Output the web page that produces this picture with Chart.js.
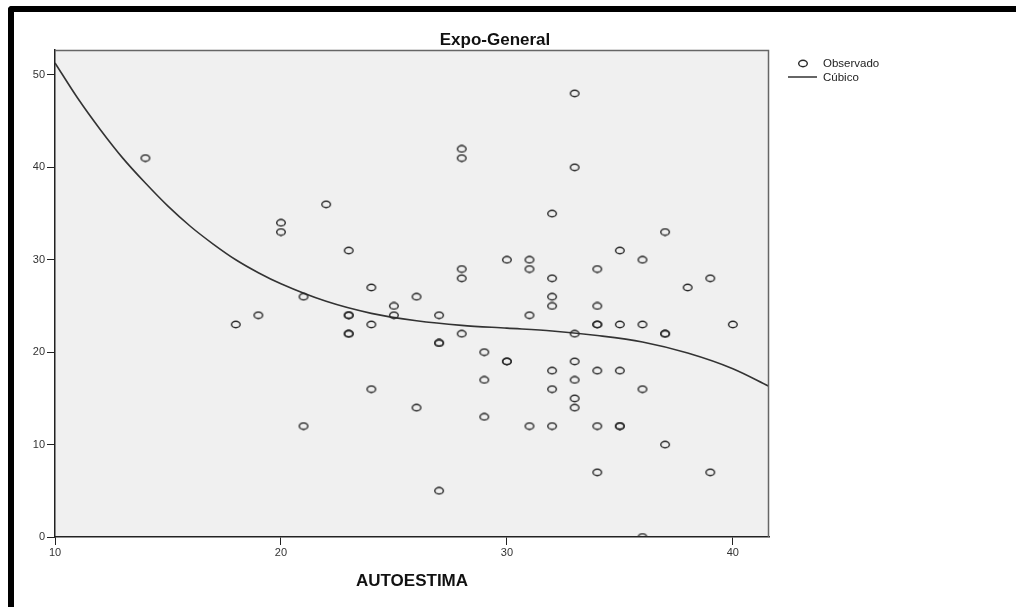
<!DOCTYPE html>
<html>
<head>
<meta charset="utf-8">
<script src="https://cdn.jsdelivr.net/npm/chart.js@4"></script>
<style>
  html, body { margin: 0; padding: 0; background: #fff; }
  #wrap { position: relative; width: 1016px; height: 607px; overflow: hidden; }
  #frame {
    position: absolute; left: 8px; top: 6px; width: 1100px; height: 700px;
    border-left: 6px solid #000; border-top: 6px solid #000;
    border-top-left-radius: 4px;
  }
  #chart { position: absolute; left: 0; top: 0; }
</style>
</head>
<body>
<div id="wrap">
  <div id="frame"></div>
  <canvas id="chart" width="1016" height="607"></canvas>
</div>
<script>
// observed values (AUTOESTIMA, Expo-General)
const obsX = [14, 18, 19, 20, 20, 21, 21, 22, 23, 23, 23, 23, 23, 24, 24, 24, 25, 25, 26, 26,
  27, 27, 27, 27, 28, 28, 28, 28, 28, 29, 29, 29, 30, 30, 30, 31, 31, 31, 31,
  32, 32, 32, 32, 32, 32, 32, 33, 33, 33, 33, 33, 33, 33,
  34, 34, 34, 34, 34, 34, 34, 35, 35, 35, 35, 35, 36, 36, 36, 36,
  37, 37, 37, 37, 38, 39, 39, 40];
const obsY = [41, 23, 24, 34, 33, 26, 12, 36, 31, 24, 24, 22, 22, 27, 23, 16, 25, 24, 26, 14,
  24, 21, 21, 5, 42, 41, 29, 28, 22, 20, 17, 13, 30, 19, 19, 30, 29, 24, 12,
  35, 28, 26, 25, 18, 16, 12, 48, 40, 22, 19, 17, 15, 14,
  29, 25, 23, 23, 18, 12, 7, 31, 23, 18, 12, 12, 30, 23, 16, 0,
  33, 22, 22, 10, 27, 28, 7, 23];

// cubic fit line
const fitX = [10, 11, 12, 13, 14, 15, 16, 17, 18, 19, 20, 22, 24, 26, 28, 30, 32, 34, 36, 38, 40, 41.6];
const fitY = [51.3, 47.5, 44.1, 41.0, 38.3, 35.8, 33.6, 31.7, 30.0, 28.6, 27.4, 25.5, 24.2, 23.4, 22.9, 22.6, 22.3, 21.8, 21.1, 19.9, 18.2, 16.3];

const xTicks = [10, 20, 30, 40];
const yTicks = [0, 10, 20, 30, 40, 50];

const FONT = '"Liberation Sans", Arial, sans-serif';

// hollow ellipse marker like the SPSS one
function ring() {
  const c = document.createElement('canvas');
  c.width = 12; c.height = 9;
  const g = c.getContext('2d');
  g.strokeStyle = '#2a2a2a';
  g.lineWidth = 1.4;
  g.beginPath();
  g.ellipse(6, 4.5, 4.3, 3.2, 0, 0, Math.PI * 2);
  g.stroke();
  return c;
}
const marker = ring();

const decor = {
  id: 'decor',
  beforeDraw(chart) {
    const { ctx, chartArea: a } = chart;
    ctx.save();
    ctx.fillStyle = '#f0f0f0';
    ctx.fillRect(a.left, a.top, a.width, a.height);
    ctx.restore();
  },
  afterDatasetsDraw(chart) {
    const { ctx, chartArea: a } = chart;
    ctx.save();
    ctx.strokeStyle = '#666';
    ctx.lineWidth = 1.5;
    ctx.beginPath();
    ctx.moveTo(a.left, a.top + 0.5);
    ctx.lineTo(a.right - 0.5, a.top + 0.5);
    ctx.lineTo(a.right - 0.5, a.bottom);
    ctx.stroke();
    ctx.restore();
  },
  afterDraw(chart) {
    const { ctx } = chart;
    ctx.save();
    ctx.fillStyle = '#111';
    ctx.textBaseline = 'middle';
    ctx.textAlign = 'center';
    ctx.font = 'bold 17px ' + FONT;
    ctx.fillText('Expo-General', 495, 40);
    ctx.fillText('AUTOESTIMA', 412, 581);

    // legend
    ctx.textAlign = 'left';
    ctx.font = '11.5px ' + FONT;
    ctx.fillStyle = '#222';
    ctx.drawImage(marker, 797, 59);
    ctx.fillText('Observado', 823, 64);
    ctx.strokeStyle = '#333';
    ctx.lineWidth = 1.5;
    ctx.beginPath();
    ctx.moveTo(788, 77);
    ctx.lineTo(817, 77);
    ctx.stroke();
    ctx.fillText('Cúbico', 823, 78);
    ctx.restore();
  }
};

new Chart(document.getElementById('chart'), {
  type: 'scatter',
  data: {
    datasets: [
      {
        label: 'Observado',
        data: obsX.map((x, i) => ({ x: x, y: obsY[i] })),
        pointStyle: marker,
        pointRadius: 5,
        clip: 0
      },
      {
        type: 'line',
        label: 'Cúbico',
        data: fitX.map((x, i) => ({ x: x, y: fitY[i] })),
        borderColor: '#333',
        borderWidth: 1.6,
        pointRadius: 0,
        cubicInterpolationMode: 'monotone',
        fill: false,
        clip: 0
      }
    ]
  },
  options: {
    responsive: false,
    animation: false,
    events: [],
    layout: { padding: { left: 14, top: 50, right: 247, bottom: 0 } },
    plugins: {
      legend: { display: false },
      title: { display: false },
      tooltip: { enabled: false }
    },
    scales: {
      x: {
        type: 'linear',
        min: 10,
        max: 41.6,
        afterFit: s => { s.height = 70; },
        afterBuildTicks: s => { s.ticks = xTicks.map(v => ({ value: v })); },
        border: { display: true, color: '#222', width: 1.5 },
        grid: { drawOnChartArea: false, drawTicks: true, tickLength: 8, color: '#222' },
        ticks: { color: '#333', font: { family: FONT, size: 11 }, padding: 1, maxRotation: 0 }
      },
      y: {
        type: 'linear',
        min: 0,
        max: 52.7,
        afterFit: s => { s.width = 41; },
        afterBuildTicks: s => { s.ticks = yTicks.map(v => ({ value: v })); },
        border: { display: true, color: '#222', width: 1.5 },
        grid: { drawOnChartArea: false, drawTicks: true, tickLength: 8, color: '#222' },
        ticks: { color: '#333', font: { family: FONT, size: 11 }, padding: 2 }
      }
    }
  },
  plugins: [decor]
});
</script>
</body>
</html>
